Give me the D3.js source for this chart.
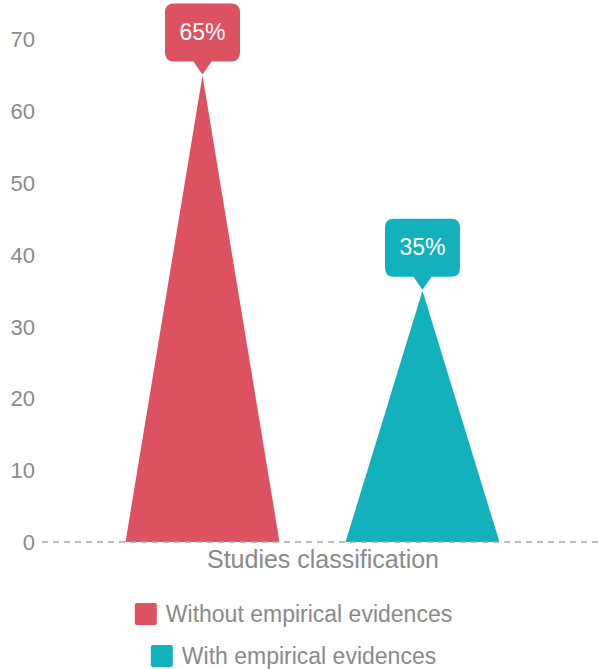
<!DOCTYPE html>
<html>
<head>
<script src="https://cdn.jsdelivr.net/npm/d3@7"></script>
<style>
  body { margin: 0; background: #fff; }
  text { font-family: "Liberation Sans", Arial, sans-serif; }
</style>
</head>
<body>
<script>
    var categories = ["Studies classification"];
    var seriesNames = ["Without empirical evidences", "With empirical evidences"];
    var seriesValues = [65, 35];
    var seriesColors = ["#dc5260", "#12b1bb"];
    var yTicks = [0, 10, 20, 30, 40, 50, 60, 70];

    var chartWidth = 598,
        chartHeight = 669,
        plotLeft = 42,
        plotRight = 583,
        plotTop = 39.5,
        plotBottom = 542;

    var svg = d3.select("body").append("svg")
        .attr("width", chartWidth)
        .attr("height", chartHeight);

    var y = d3.scaleLinear().domain([0, 70]).range([plotBottom, plotTop]);

    var x0 = d3.scaleBand().domain(categories).range([plotLeft, plotRight]);

    var x1 = d3.scalePoint()
        .domain(seriesNames)
        .range([x0.bandwidth() / 2 - 110, x0.bandwidth() / 2 + 110]);

    var halfBase = 77;

    // y tick labels
    svg.selectAll(".ytick")
       .data(yTicks)
       .enter()
       .append("text")
       .attr("class", "ytick")
       .attr("x", 35)
       .attr("y", d => y(d))
       .attr("dy", "0.36em")
       .attr("text-anchor", "end")
       .attr("font-size", 22)
       .attr("fill", "#8a8a8a")
       .text(d => d);

    var g = svg.append("g").attr("transform", "translate(" + x0(categories[0]) + ",0)");

    // triangles
    g.selectAll(".tri")
     .data(seriesNames)
     .enter()
     .append("path")
     .attr("class", "tri")
     .attr("fill", (d, i) => seriesColors[i])
     .attr("d", (d, i) => {
         var cx = x1(d);
         return "M" + (cx - halfBase) + "," + y(0) +
                "L" + cx + "," + y(seriesValues[i]) +
                "L" + (cx + halfBase) + "," + y(0) + "Z";
     });

    // baseline
    svg.append("line")
       .attr("x1", plotLeft)
       .attr("x2", chartWidth)
       .attr("y1", y(0))
       .attr("y2", y(0))
       .attr("stroke", "#a8a8a8")
       .attr("stroke-width", 1.5)
       .attr("stroke-dasharray", "6,5");

    // callout bubbles
    var bw = 75, bh = 58, r = 9, ph = 13, pw = 9;
    seriesNames.forEach((d, i) => {
        var cx = x1(d) + x0(categories[0]);
        var tipY = y(seriesValues[i]) - 1;
        var b = tipY - ph;
        var t = b - bh;
        var l = cx - bw / 2, rr = cx + bw / 2;
        var p = "M" + (l + r) + "," + t +
                "H" + (rr - r) + "Q" + rr + "," + t + " " + rr + "," + (t + r) +
                "V" + (b - r) + "Q" + rr + "," + b + " " + (rr - r) + "," + b +
                "H" + (cx + pw) + "L" + cx + "," + tipY + "L" + (cx - pw) + "," + b +
                "H" + (l + r) + "Q" + l + "," + b + " " + l + "," + (b - r) +
                "V" + (t + r) + "Q" + l + "," + t + " " + (l + r) + "," + t + "Z";
        svg.append("path").attr("d", p).attr("fill", seriesColors[i]);
        svg.append("text")
           .attr("x", cx)
           .attr("y", t + bh / 2 - 1)
           .attr("dy", "0.36em")
           .attr("text-anchor", "middle")
           .attr("font-size", 23)
           .attr("fill", "#fff")
           .text(seriesValues[i] + "%");
    });

    // axis label
    svg.append("text")
       .attr("x", 323)
       .attr("y", 568)
       .attr("text-anchor", "middle")
       .attr("font-size", 25)
       .attr("fill", "#8a8a8a")
       .text(categories[0]);

    // legend
    var legend = svg.selectAll(".leg")
        .data(seriesNames)
        .enter()
        .append("g")
        .attr("class", "leg");

    legend.each(function (d, i) {
        var row = d3.select(this);
        var ty = 614 + i * 42;
        var txt = row.append("text")
            .attr("y", ty)
            .attr("dy", "0.36em")
            .attr("font-size", 23)
            .attr("fill", "#8a8a8a")
            .text(d);
        var tw = txt.node().getComputedTextLength();
        var total = 22 + 9 + tw;
        var sx = 293.5 - total / 2;
        txt.attr("x", sx + 31);
        row.append("rect")
           .attr("x", sx)
           .attr("y", ty - 11)
           .attr("width", 22)
           .attr("height", 22)
           .attr("rx", 2)
           .attr("fill", seriesColors[i]);
    });
</script>
</body>
</html>
